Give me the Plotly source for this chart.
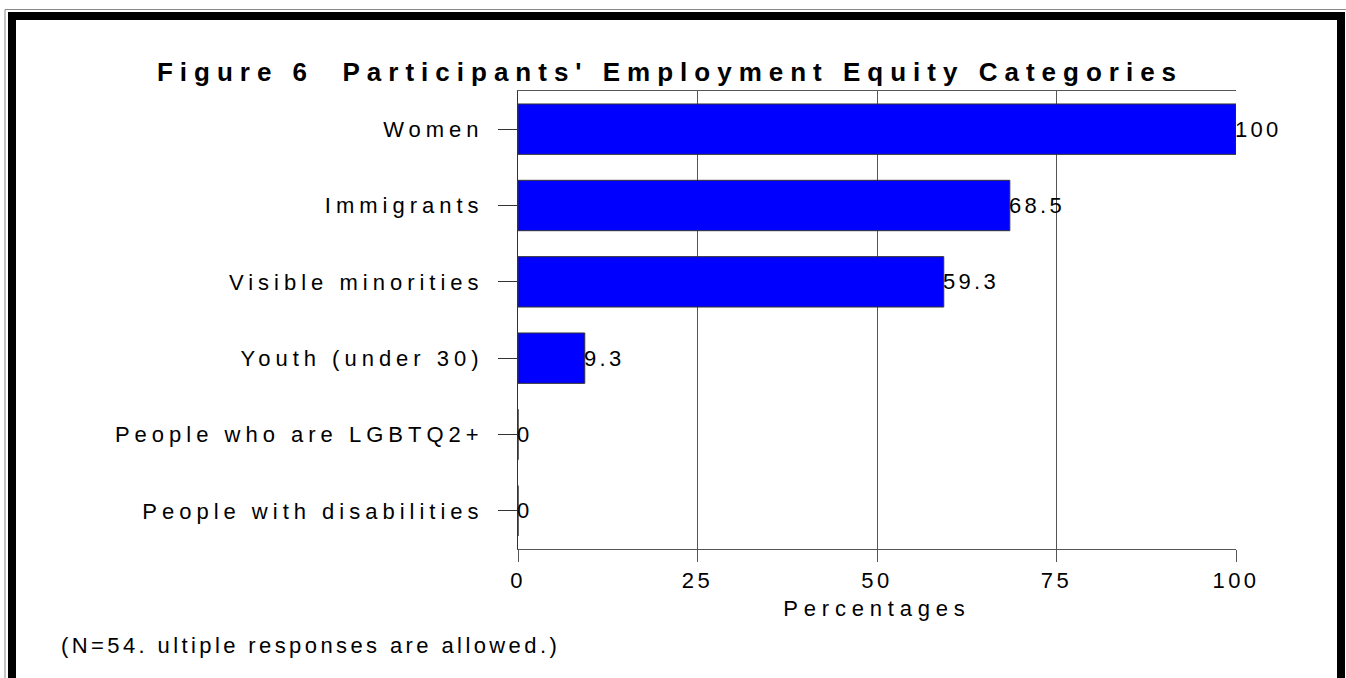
import plotly.graph_objects as go

# Employment equity categories reported by participants (multiple responses allowed)
categories = [
    "Women",
    "Immigrants",
    "Visible minorities",
    "Youth (under 30)",
    "People who are LGBTQ2+",
    "People with disabilities",
]
percentages = [100, 68.5, 59.3, 9.3, 0, 0]
x_ticks = [0, 25, 50, 75, 100]

TITLE = "Figure 6  Participants' Employment Equity Categories"
X_TITLE = "Percentages"
NOTE = "(N=54. ultiple responses are allowed.)"

FONT = "Liberation Sans, Arial, sans-serif"
W, H = 1346, 678
L, R, T, B = 518, 110, 91, 129


def spaced(text, px):
    """Wrap text in a span with extra letter spacing (wide, stretched look)."""
    return f'<span style="letter-spacing:{px}px">{text}</span>'


def px_x(p):
    return (p - L) / (W - L - R)


def px_y(p):
    return (H - B - p) / (H - T - B)


fig = go.Figure()
fig.add_trace(
    go.Bar(
        x=percentages,
        y=categories,
        orientation="h",
        width=0.66,
        marker=dict(color="#0000FF", line=dict(color="#333333", width=1)),
        hoverinfo="x+y",
    )
)

# value labels placed just past the end of each bar
for cat, val in zip(categories, percentages):
    fig.add_annotation(
        x=val,
        y=cat,
        xref="x",
        yref="y",
        text=spaced(f"{val:g}", 3.3),
        showarrow=False,
        xanchor="left",
        yanchor="middle",
        xshift=-3,
        font=dict(family=FONT, size=22, color="#000000"),
    )

# footnote
fig.add_annotation(
    x=px_x(59),
    y=px_y(645),
    xref="paper",
    yref="paper",
    text=spaced(NOTE, 3.4),
    showarrow=False,
    xanchor="left",
    yanchor="middle",
    font=dict(family=FONT, size=22, color="#000000"),
)

# double frame around the figure: thin grey outer rule + heavy black border
fig.add_shape(
    type="rect", xref="paper", yref="paper",
    x0=px_x(5), x1=px_x(1352), y0=px_y(700), y1=px_y(9.5),
    line=dict(color="#8a8a8a", width=1), layer="above",
)
fig.add_shape(
    type="rect", xref="paper", yref="paper",
    x0=px_x(12), x1=px_x(1341), y0=px_y(710), y1=px_y(16),
    line=dict(color="#000000", width=8), layer="above",
)

fig.update_layout(
    width=W,
    height=H,
    margin=dict(l=L, r=R, t=T, b=B, pad=0),
    paper_bgcolor="#FFFFFF",
    plot_bgcolor="#FFFFFF",
    showlegend=False,
    title=dict(
        text=spaced(f"<b>{TITLE}</b>", 7),
        x=670 / W,
        xanchor="center",
        y=1 - 72 / H,
        yanchor="middle",
        yref="container",
        font=dict(family=FONT, size=26, color="#000000"),
    ),
    font=dict(family=FONT, size=22, color="#000000"),
)

fig.update_xaxes(
    range=[0, 100],
    tickmode="array",
    tickvals=x_ticks,
    ticktext=[spaced(str(t), 3.4) for t in x_ticks],
    ticks="outside",
    ticklen=12,
    tickcolor="#555555",
    tickwidth=1,
    showgrid=True,
    gridcolor="#555555",
    gridwidth=1,
    showline=True,
    linecolor="#555555",
    linewidth=1,
    mirror=True,
    zeroline=False,
    tickfont=dict(family=FONT, size=22, color="#000000"),
    title=dict(
        text=spaced(X_TITLE, 5.8),
        standoff=8,
        font=dict(family=FONT, size=22, color="#000000"),
    ),
    fixedrange=True,
)

fig.update_yaxes(
    autorange="reversed",
    categoryorder="array",
    categoryarray=categories,
    tickmode="array",
    tickvals=categories,
    ticktext=[spaced(c, 5) for c in categories],
    ticks="outside",
    ticklen=19,
    tickcolor="#333333",
    tickwidth=1,
    ticklabelstandoff=10,
    showgrid=False,
    showline=True,
    linecolor="#333333",
    linewidth=1,
    zeroline=False,
    tickfont=dict(family=FONT, size=22, color="#000000"),
    fixedrange=True,
)

fig.write_html("out.html")
